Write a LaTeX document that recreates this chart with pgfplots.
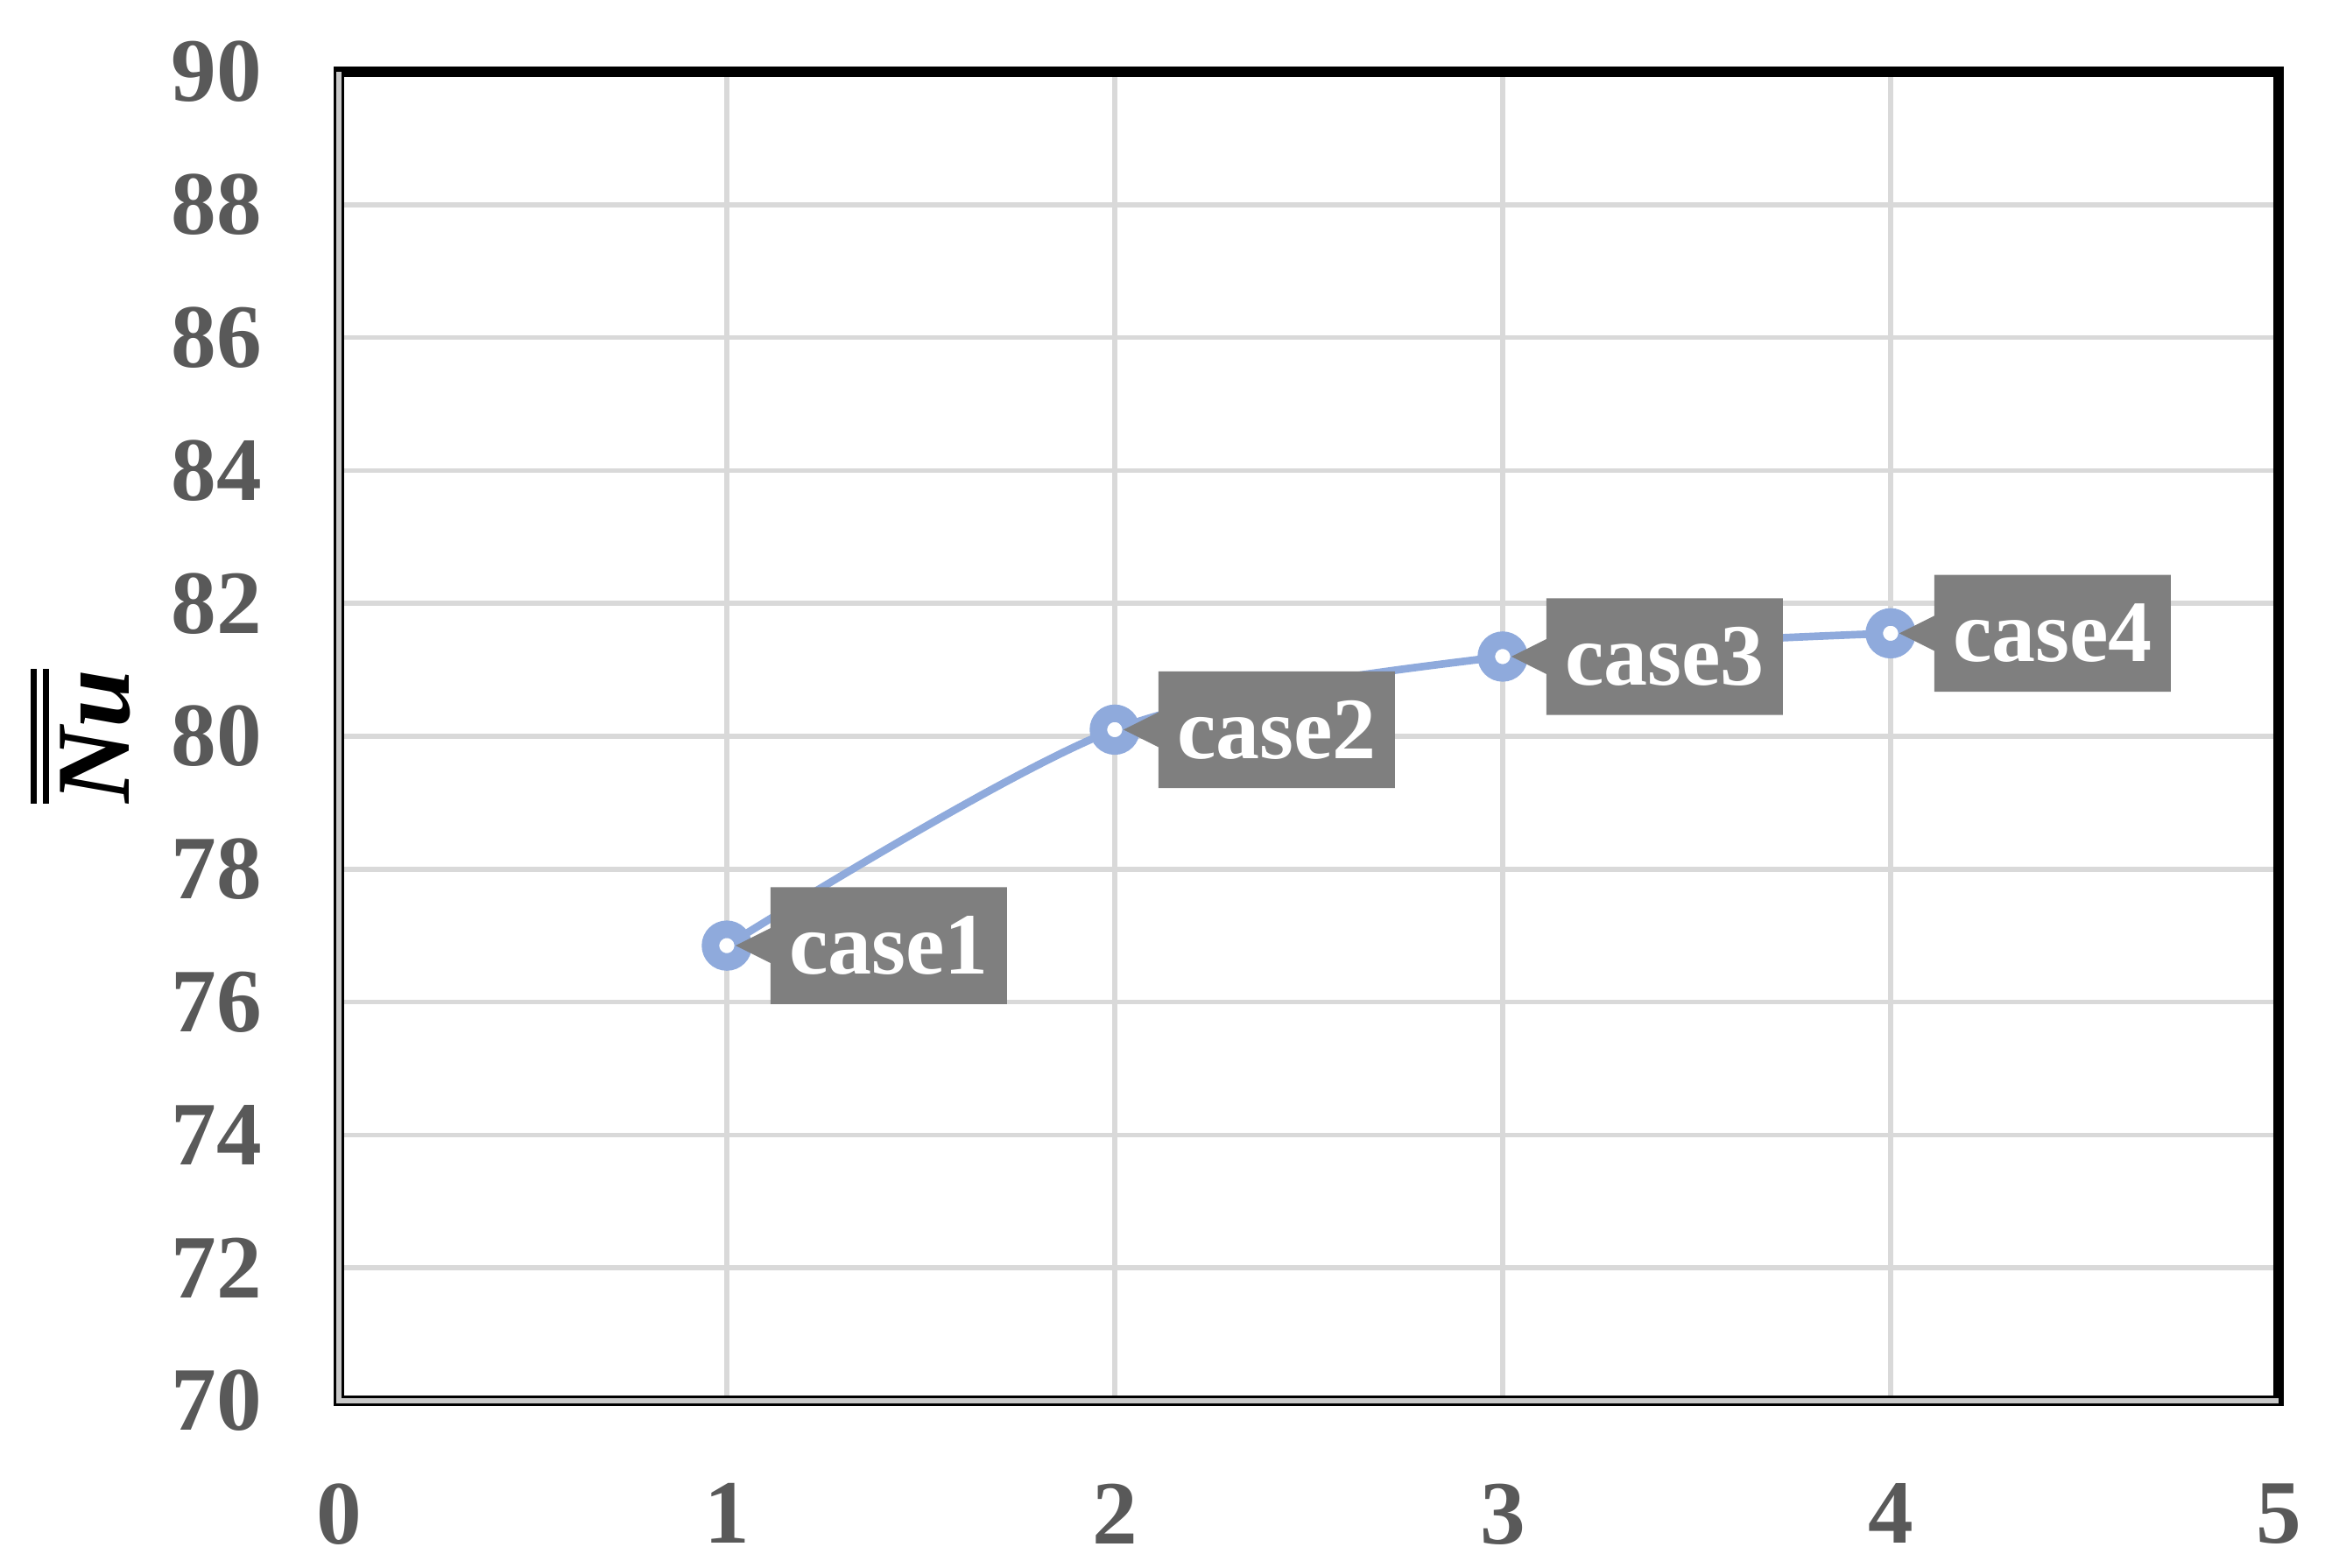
\documentclass[border=0pt]{standalone}
\usepackage{fontspec}
\setmainfont{Liberation Serif}
\usepackage{pgfplots}
\pgfplotsset{compat=1.18}
\usetikzlibrary{shapes.callouts}
\definecolor{tickgray}{HTML}{595959}
\definecolor{gridgray}{HTML}{D9D9D9}
\definecolor{lineblue}{HTML}{8FAADC}
\definecolor{boxgray}{HTML}{7F7F7F}
\definecolor{framegray}{HTML}{C8C8C8}
% double overline for the y label
\newcommand{\dbar}[1]{\vbox{\hrule height 1pt\kern 1.1pt\hrule height 1pt\kern 2pt\hbox{#1}}}
\begin{document}
\begin{tikzpicture}
\path[use as bounding box] (-58.05pt,-28.5pt) rectangle (341.4pt,240pt);
\begin{axis}[
  name=ax, at={(0,0)}, anchor=south west,
  scale only axis, width=332.25pt, height=227.7pt,
  xmin=0, xmax=5, ymin=70, ymax=90,
  xtick={0,...,5}, ytick={70,72,...,90},
  major tick length=0pt,
  grid=major, grid style={gridgray, line width=0.85pt},
  axis line style={black, line width=1.9pt},
  tick label style={font=\fontsize{15.5}{15.5}\selectfont\bfseries, text=tickgray, inner sep=0pt},
  /pgf/number format/assume math mode=true,
  yticklabel style={xshift=-13pt},
  xticklabel style={yshift=-14pt},
  ylabel={\dbar{\bfseries\itshape Nu}},
  ylabel style={at={(axis description cs:-0.133,0.5)}, anchor=center, font=\fontsize{18}{18}\selectfont},
  clip=false,
  point meta=explicit symbolic,
  nodes near coords,
  every node near coord/.append style={
    font=\fontsize{15}{15}\selectfont\bfseries, text=white, fill=boxgray,
    shape=rectangle callout, callout relative pointer={(canvas cs:x=-6pt,y=0pt)},
    callout pointer width=6pt, minimum width=40.5pt, minimum height=20pt,
    inner sep=0pt, anchor=west, xshift=6pt},
]
\addplot[lineblue, line width=1.3pt, smooth, mark=*, mark size=2.8pt,
  mark options={line width=3pt, draw=lineblue, fill=white, solid}]
  coordinates {(1,76.85) [case1] (2,80.1) [case2] (3,81.2) [case3] (4,81.55) [case4]};
\end{axis}
\draw[framegray, line width=1pt] (ax.north west) -- (ax.south west) -- (ax.south east);
\end{tikzpicture}
\end{document}
